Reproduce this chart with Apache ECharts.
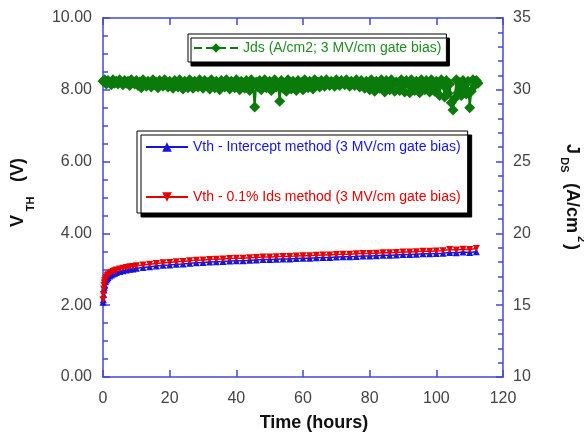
<!DOCTYPE html>
<html>
<head>
<meta charset="utf-8">
<script src="https://cdn.jsdelivr.net/npm/echarts@6/dist/echarts.min.js"></script>
<style>
  html, body { margin: 0; padding: 0; background: #fff; }
  #main { width: 584px; height: 437px; }
</style>
</head>
<body>
<div id="main"></div>
<script>
// x ticks (hours)
const timeTicks = [0, 20, 40, 60, 80, 100, 120];

// Jds, sampled every half hour from t = 0
const jdsStepHours = 0.5;
const jdsValues = [
  30.6, 30.7, 30.4, 30.65, 30.5, 30.35, 30.7, 30.45, 30.6, 30.4, 30.7, 30.5, 30.35, 30.65, 30.45, 30.6, 30.3, 30.7, 30.5, 30.4,
  30.65, 30.3, 30.55, 30.15, 30.7, 30.4, 30.25, 30.6, 30.45, 30.2, 30.7, 30.35, 30.55, 30.15, 30.65, 30.4, 30.25, 30.7, 30.5, 30.2,
  30.6, 30.35, 30.1, 30.65, 30.45, 30.2, 30.7, 30.3, 30.05, 30.6, 30.4, 30.15, 30.7, 30.5, 30.1, 30.6, 30.35, 30.2, 30.7, 30.45,
  30.1, 30.65, 30.3, 30.5, 30.05, 30.7, 30.4, 30.15, 30.6, 30.35, 30.0, 30.65, 30.45, 30.2, 30.7, 30.3, 30.05, 30.6, 30.4, 30.15,
  30.7, 30.35, 30.0, 30.6, 30.45, 30.1, 30.65, 30.3, 29.95, 30.7, 30.4, 28.8, 30.55, 30.2, 30.65, 30.0, 30.45, 30.7, 30.15, 30.35,
  30.6, 29.95, 30.5, 30.7, 30.2, 30.4, 29.2, 30.65, 30.1, 30.45, 29.9, 30.7, 30.3, 30.05, 30.6, 30.4, 29.95, 30.65, 30.25, 30.5,
  30.0, 30.7, 30.35, 30.15, 30.6, 30.45, 30.05, 30.7, 30.3, 30.55, 30.2, 30.65, 30.4, 30.25, 30.7, 30.5, 30.3, 30.6, 30.45, 30.25,
  30.7, 30.4, 30.3, 30.65, 30.5, 30.35, 30.7, 30.45, 30.25, 30.6, 30.4, 30.3, 30.7, 30.5, 30.2, 30.65, 30.35, 30.1, 30.6, 30.45,
  30.0, 30.7, 30.35, 29.9, 30.6, 30.45, 30.1, 30.7, 30.25, 29.85, 30.65, 30.4, 30.0, 30.7, 30.3, 29.9, 30.55, 30.45, 29.95, 30.7,
  30.3, 29.85, 30.65, 30.4, 29.8, 30.7, 30.2, 29.95, 30.6, 30.45, 29.8, 30.7, 30.3, 30.0, 30.65, 30.4, 29.85, 30.7, 30.15, 29.9,
  30.6, 30.2, 29.6, 30.7, 30.35, 29.5, 30.65, 29.75, 30.4, 29.1, 28.6, 29.4, 30.7, 29.8, 30.5, 29.6, 30.65, 30.15, 29.7, 30.6,
  28.75, 29.9, 30.7, 30.3, 30.65, 30.45
];

// Vth measurements
const vthHours = [
  0, 0.1, 0.2, 0.3, 0.4, 0.5, 0.75, 1, 1.25, 1.5, 2, 2.5, 3, 3.5, 4, 5, 6, 7, 8, 9, 10,
  12, 14, 16, 18, 20, 22, 24, 26, 28, 30, 32, 34, 36, 38, 40, 42, 44, 46, 48, 50,
  52, 54, 56, 58, 60, 62, 64, 66, 68, 70, 72, 74, 76, 78, 80, 82, 84, 86, 88, 90,
  92, 94, 96, 98, 100, 102, 104, 106, 108, 110, 112
];
const vthIntercept = [
  2.08, 2.15, 2.3, 2.42, 2.5, 2.57, 2.65, 2.7, 2.74, 2.77, 2.81, 2.84, 2.87, 2.89, 2.91, 2.94, 2.96, 2.98, 3.0, 3.01, 3.03,
  3.05, 3.07, 3.09, 3.11, 3.12, 3.14, 3.15, 3.17, 3.18, 3.19, 3.2, 3.21, 3.22, 3.23, 3.24, 3.24, 3.25, 3.26, 3.27, 3.27,
  3.28, 3.29, 3.29, 3.3, 3.31, 3.31, 3.32, 3.33, 3.33, 3.34, 3.35, 3.35, 3.36, 3.37, 3.37, 3.38, 3.39, 3.39, 3.4, 3.41,
  3.41, 3.42, 3.43, 3.43, 3.44, 3.45, 3.47, 3.46, 3.48, 3.47, 3.49
];
const vthIds = [
  2.15, 2.3, 2.45, 2.55, 2.62, 2.68, 2.74, 2.78, 2.82, 2.85, 2.88, 2.91, 2.94, 2.96, 2.98, 3.01, 3.03, 3.05, 3.07, 3.08, 3.1,
  3.12, 3.14, 3.16, 3.18, 3.19, 3.21, 3.22, 3.24, 3.25, 3.26, 3.27, 3.28, 3.29, 3.3, 3.31, 3.31, 3.32, 3.33, 3.34, 3.34,
  3.35, 3.36, 3.36, 3.37, 3.38, 3.38, 3.39, 3.4, 3.4, 3.41, 3.42, 3.42, 3.43, 3.44, 3.44, 3.45, 3.46, 3.46, 3.47, 3.48,
  3.48, 3.49, 3.5, 3.5, 3.51, 3.52, 3.55, 3.54, 3.56, 3.55, 3.58
];

const nameJds = 'Jds (A/cm2; 3 MV/cm gate bias)';
const nameIntercept = 'Vth - Intercept method (3 MV/cm gate bias)';
const nameIds = 'Vth - 0.1% Ids method (3 MV/cm gate bias)';

const axisBlue = '#4646d8';
const green = '#0a7a0a';
const blue = '#1515e0';
const red = '#e80000';
const font = '"Liberation Sans", Arial, sans-serif';

const jdsData = jdsValues.map((v, i) => [i * jdsStepHours, v]);
const icData = vthHours.map((t, i) => [t, vthIntercept[i]]);
const idsData = vthHours.map((t, i) => [t, vthIds[i]]);

const chart = echarts.init(document.getElementById('main'));

const tickLabel = { color: '#444', fontSize: 16, fontFamily: font };
const axisLine = { show: true, onZero: false, lineStyle: { color: axisBlue, width: 1.5 } };
const majorTick = { show: true, inside: true, length: 7, lineStyle: { color: axisBlue, width: 1.5 } };
const titleText = (x, y, text, size, rot, color) => ({
  type: 'text', x: x, y: y, rotation: rot || 0, silent: true,
  style: { text: text, fill: color || '#111', font: 'bold ' + size + 'px ' + font, align: 'center', verticalAlign: 'middle' }
});

const option = {
  animation: false,
  backgroundColor: '#fff',
  grid: { left: 103, right: 81, top: 18, bottom: 60 },
  xAxis: [
    {
      type: 'value', min: timeTicks[0], max: timeTicks[timeTicks.length - 1], interval: 20,
      axisLine: axisLine, axisTick: majorTick,
      axisLabel: Object.assign({ margin: 14 }, tickLabel),
      splitLine: { show: false }
    },
    {
      type: 'value', position: 'top', min: timeTicks[0], max: timeTicks[timeTicks.length - 1], interval: 20,
      axisLine: axisLine, axisTick: majorTick,
      axisLabel: { show: false },
      splitLine: { show: false }
    }
  ],
  yAxis: [
    {
      type: 'value', min: 0, max: 10, interval: 2,
      axisLine: axisLine, axisTick: majorTick,
      minorTick: { show: true, splitNumber: 4, length: 5, lineStyle: { color: axisBlue, width: 1.5 } },
      axisLabel: Object.assign({ margin: 11, formatter: v => v.toFixed(2) }, tickLabel),
      splitLine: { show: false }
    },
    {
      type: 'value', position: 'right', min: 10, max: 35, interval: 5,
      axisLine: axisLine, axisTick: majorTick,
      minorTick: { show: true, splitNumber: 5, length: 5, lineStyle: { color: axisBlue, width: 1.5 } },
      axisLabel: Object.assign({ margin: 10 }, tickLabel),
      splitLine: { show: false }
    }
  ],
  legend: [
    {
      data: [{ name: nameJds, textStyle: { color: '#1e8e1e' }, lineStyle: { type: 'dashed', width: 2 } }],
      left: 188, top: 34, padding: [7, 5, 7, 5],
      itemWidth: 44, itemHeight: 12, itemGap: 0,
      backgroundColor: '#fff', borderColor: '#000', borderWidth: 1,
      shadowColor: '#000', shadowBlur: 0, shadowOffsetX: 3, shadowOffsetY: 4,
      textStyle: { fontSize: 14, fontFamily: font },
      selectedMode: false
    },
    {
      data: [
        { name: nameIntercept, textStyle: { color: blue } },
        { name: nameIds, textStyle: { color: red } }
      ],
      orient: 'vertical', left: 137, top: 131, padding: [9, 7, 9, 8],
      itemWidth: 42, itemHeight: 12, itemGap: 36,
      backgroundColor: '#fff', borderColor: '#000', borderWidth: 1,
      shadowColor: '#000', shadowBlur: 0, shadowOffsetX: 4, shadowOffsetY: 4,
      textStyle: { fontSize: 14, fontFamily: font },
      selectedMode: false
    }
  ],
  graphic: [
    titleText(314, 423, 'Time (hours)', 18),
    // left title V_TH (V), rotated
    titleText(18, 221, 'V', 18, Math.PI / 2),
    titleText(31, 204, 'TH', 11, Math.PI / 2),
    titleText(18, 170, '(V)', 18, Math.PI / 2),
    // right title J_DS (A/cm^2), rotated
    titleText(572, 149, 'J', 18, -Math.PI / 2),
    titleText(564, 165, 'DS', 11, -Math.PI / 2),
    titleText(572, 208, '(A/cm', 18, -Math.PI / 2),
    titleText(581, 239, '2', 11, -Math.PI / 2),
    titleText(572, 247, ')', 18, -Math.PI / 2)
  ],
  series: [
    {
      name: nameJds, type: 'line', xAxisIndex: 0, yAxisIndex: 1,
      data: jdsData, symbol: 'diamond', symbolSize: 11, showAllSymbol: true,
      color: green,
      itemStyle: { color: green },
      lineStyle: { color: green, width: 2 }
    },
    {
      name: nameIntercept, type: 'line', xAxisIndex: 0, yAxisIndex: 0,
      data: icData, symbol: 'triangle', symbolSize: 7, showAllSymbol: true,
      color: blue,
      itemStyle: { color: blue },
      lineStyle: { color: blue, width: 1.5 }
    },
    {
      name: nameIds, type: 'line', xAxisIndex: 0, yAxisIndex: 0,
      data: idsData, symbol: 'triangle', symbolRotate: 180, symbolSize: 7, showAllSymbol: true,
      color: red,
      itemStyle: { color: red },
      lineStyle: { color: red, width: 1.5 }
    }
  ]
};

chart.setOption(option);
</script>
</body>
</html>
